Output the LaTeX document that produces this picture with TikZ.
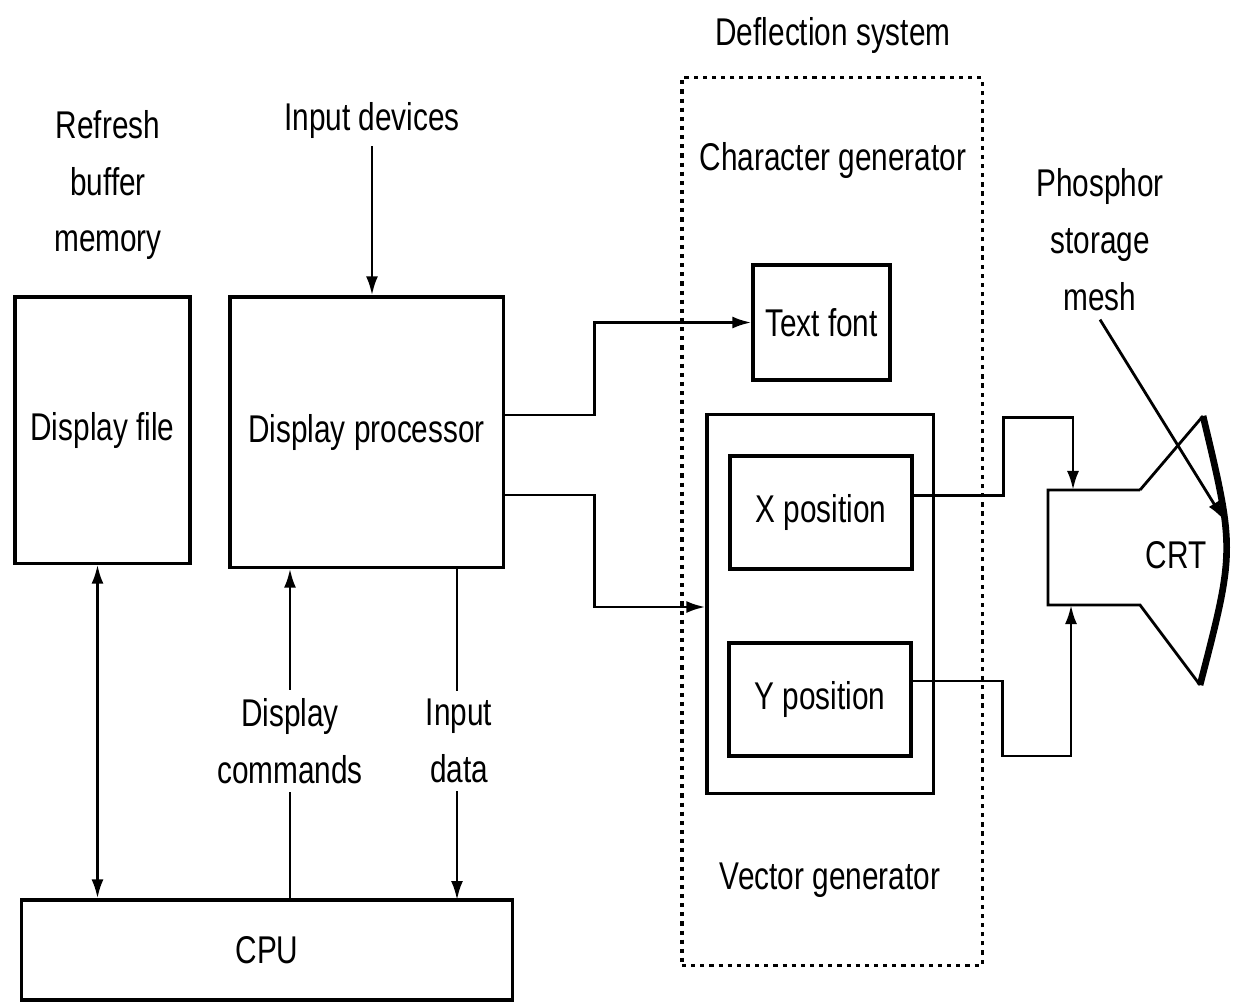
\documentclass[tikz,border=0pt]{standalone}
\usepackage{fontspec}
\setmainfont{Liberation Sans}[FakeStretch=0.77]
\usetikzlibrary{arrows.meta}

\begin{document}
\begin{tikzpicture}[x=0.01cm, y=-0.01cm, line width=0.8pt, >={Latex[length=1.9mm, width=1.2mm]},
	lbl/.style={align=center, inner sep=2pt, font=\fontsize{11}{16.2}\selectfont},
	block/.style={shape=rectangle, draw, line width=0.9pt, lbl},
	frame/.style={draw, dash pattern=on 1.2pt off 1.4pt, line width=0.9pt}]
	\useasboundingbox (0,0) rectangle (1234,1003);
	% Boxes:
	\node[block, minimum width=1.75cm, minimum height=2.66cm] (dfile) at (102.5,430){Display file};
	\node[block, minimum width=2.73cm, minimum height=2.70cm] (dproc) at (366.5,432){Display processor};
	\node[block, minimum width=4.90cm, minimum height=1.00cm] (cpu) at (267,950){CPU};
	\node[frame, minimum width=3.00cm, minimum height=8.87cm] (deflect) at (832,521.5){};
	\node[block, minimum width=1.37cm, minimum height=1.15cm] (tfont) at (821.5,322.5){Text font};
	\node[block, minimum width=2.26cm, minimum height=3.78cm] (vgen) at (820,604){};
	\node[block, minimum width=1.82cm, minimum height=1.13cm] (xpos) at (821,512.5){X position};
	\node[block, minimum width=1.82cm, minimum height=1.13cm] (ypos) at (820,699.5){Y position};
	% Labels:
	\node[lbl] (deftitle) at (833,35){Deflection system};
	\node[lbl] (refresh) at (108,185){Refresh\\buffer\\memory};
	\node[lbl] (indev) at (372,120){Input devices};
	\node[lbl] (chargen) at (833,160){Character generator};
	\node[lbl] (vecgen) at (830,880){Vector generator};
	\node[lbl] (phos) at (1100,240){Phosphor\\storage\\mesh};
	\node[lbl] (dcmd) at (290,741){Display\\commands};
	\node[lbl] (indata) at (459,741){Input\\data};
	% CRT:
	\coordinate (crttop) at (1073,490);
	\coordinate (crtbot) at (1071,605);
	\coordinate (face) at (1224,520);
	\draw (1140,490) -- (1048,490) -- (1048,605) -- (1140,605) -- (1200,685);
	\draw (1140,490) -- (1203,416);
	\draw[line width=1.9pt] (1203,416) .. controls (1235,550) .. (1200,685);
	\node[lbl] (crt) at (1176,555){CRT};
	% Wires:
	\draw[->] (indev) -- (indev |- dproc.north);
	\draw[<->] ([xshift=-0.05cm]dfile.south) -- ([xshift=-0.05cm]dfile.south |- cpu.north);
	\draw[->] (dcmd.north) -- (dcmd.north |- dproc.south);
	\draw (dcmd.south) -- (dcmd.south |- cpu.north);
	\draw (indata.north -| 457,0) -- (457,567);
	\draw[->] (indata.south -| 457,0) -- (457,900);
	\draw[->] ([yshift=0.17cm]dproc.east) -- ++(90,0) |- (tfont.west);
	\draw[->] ([yshift=-0.63cm]dproc.east) -- ++(90,0) |- ([yshift=-0.03cm]vgen.west);
	\draw[->] ([yshift=0.17cm]xpos.east) -| ++(90,-78) -| (crttop);
	\draw[->] ([yshift=0.185cm]ypos.east) -| ++(90,75) -| (crtbot);
	\draw[->] (phos.south) -- (face);
\end{tikzpicture}
\end{document}
